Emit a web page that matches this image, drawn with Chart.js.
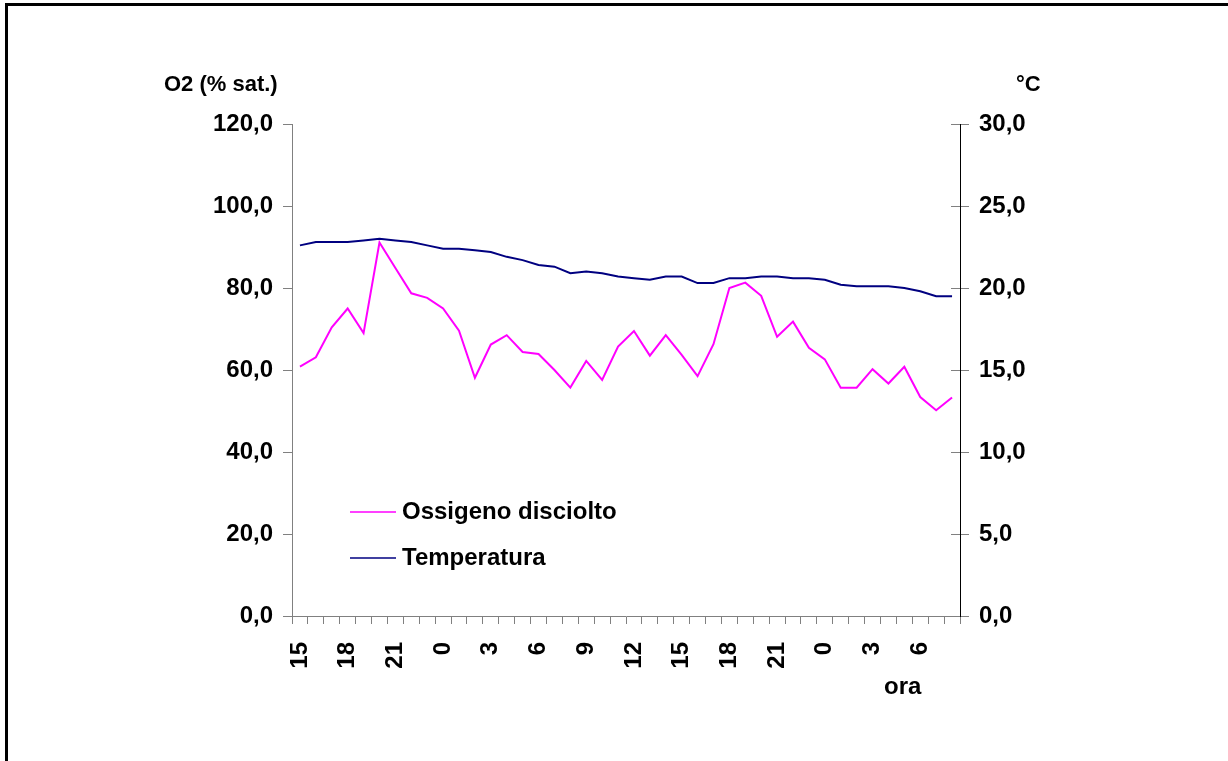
<!DOCTYPE html>
<html lang="it">
<head>
<meta charset="UTF-8">
<title>Ossigeno disciolto e temperatura</title>
<script src="https://cdn.jsdelivr.net/npm/chart.js"></script>
<style>
  html, body { margin: 0; padding: 0; background: #fff; overflow: hidden; }
  .wrap { position: relative; width: 1228px; height: 761px; }
  .frame {
    position: absolute; left: 5px; top: 3px; width: 1400px; height: 900px;
    border-left: 3px solid #000; border-top: 3px solid #000;
  }
  canvas { position: absolute; left: 0; top: 0; }
</style>
</head>
<body>
<div class="wrap">
  <div class="frame"></div>
  <canvas id="chart" width="1228" height="761"></canvas>
</div>
<script>
// ore (dalle 15 del primo giorno alle 8 del terzo)
const hours = ['15','16','17','18','19','20','21','22','23',
  '0','1','2','3','4','5','6','7','8','9','10','11','12','13','14','15','16','17','18','19','20','21','22','23',
  '0','1','2','3','4','5','6','7','8'];

// ossigeno disciolto (% sat.)
const o2 = [60.8, 63.1, 70.4, 75.0, 69.0, 91.1, 84.9, 78.7, 77.6, 75.0, 69.6, 58.1, 66.2, 68.5,
  64.4, 63.9, 60.0, 55.7, 62.2, 57.6, 65.7, 69.5, 63.5, 68.5, 63.7, 58.5, 66.3, 80.0,
  81.3, 78.1, 68.1, 71.8, 65.4, 62.6, 55.7, 55.7, 60.2, 56.7, 60.8, 53.4, 50.2, 53.3];

// temperatura (°C)
const temp = [22.6, 22.8, 22.8, 22.8, 22.9, 23.0, 22.9, 22.8, 22.6, 22.4, 22.4, 22.3, 22.2, 21.9,
  21.7, 21.4, 21.3, 20.9, 21.0, 20.9, 20.7, 20.6, 20.5, 20.7, 20.7, 20.3, 20.3, 20.6,
  20.6, 20.7, 20.7, 20.6, 20.6, 20.5, 20.2, 20.1, 20.1, 20.1, 20.0, 19.8, 19.5, 19.5];

const FONT = "'Liberation Sans', Arial, sans-serif";
const fmt = v => v.toFixed(1).replace('.', ',');

// testi degli assi, legenda e tacche a croce dell'asse destro
const extras = {
  id: 'extras',
  afterDraw(chart) {
    const ctx = chart.ctx;
    const y1 = chart.scales.y1;
    const area = chart.chartArea;
    ctx.save();
    // parte interna delle tacche dell'asse destro
    ctx.strokeStyle = '#808080';
    ctx.lineWidth = 1;
    for (let v = 0; v <= 30; v += 5) {
      const py = Math.round(y1.getPixelForValue(v)) + 0.5;
      ctx.beginPath();
      ctx.moveTo(area.right - 9, py);
      ctx.lineTo(area.right, py);
      ctx.stroke();
    }
    ctx.fillStyle = '#000';
    ctx.textBaseline = 'middle';
    ctx.font = 'bold 22px ' + FONT;
    ctx.textAlign = 'left';
    ctx.fillText('O2 (% sat.)', 164, 85);
    ctx.fillText('°C', 1016, 85);
    ctx.font = 'bold 24px ' + FONT;
    ctx.fillText('ora', 884, 687);

    // legenda
    const items = chart.data.datasets;
    const ys = [512, 558];
    items.forEach((ds, i) => {
      ctx.strokeStyle = ds.borderColor;
      ctx.lineWidth = 1.5;
      ctx.beginPath();
      ctx.moveTo(350, ys[i]);
      ctx.lineTo(396, ys[i]);
      ctx.stroke();
      ctx.fillStyle = '#000';
      ctx.font = 'bold 24px ' + FONT;
      ctx.fillText(ds.label, 402, ys[i]);
    });
    ctx.restore();
  }
};

new Chart(document.getElementById('chart'), {
  type: 'line',
  data: {
    labels: hours,
    datasets: [
      {
        label: 'Ossigeno disciolto',
        data: o2,
        borderColor: '#FF00FF',
        backgroundColor: '#FF00FF',
        borderWidth: 2,
        pointRadius: 0,
        tension: 0,
        yAxisID: 'y'
      },
      {
        label: 'Temperatura',
        data: temp,
        borderColor: '#000080',
        backgroundColor: '#000080',
        borderWidth: 2,
        pointRadius: 0,
        tension: 0,
        yAxisID: 'y1'
      }
    ]
  },
  options: {
    responsive: false,
    animation: false,
    devicePixelRatio: 1,
    layout: { padding: { top: 124, left: 0, right: 0, bottom: 0 } },
    plugins: {
      legend: { display: false },
      tooltip: { enabled: false }
    },
    scales: {
      x: {
        type: 'category',
        offset: true,
        afterFit: s => { s.height = 145; },
        grid: { offset: true, drawOnChartArea: false, tickLength: 8, color: '#808080' },
        border: { color: '#808080', width: 1 },
        ticks: {
          autoSkip: false,
          maxRotation: 90,
          minRotation: 90,
          padding: 18,
          color: '#000',
          font: { family: FONT, size: 24, weight: 'bold' },
          callback: (v, i) => (i % 3 === 0 ? hours[i] : '')
        }
      },
      y: {
        position: 'left',
        min: 0,
        max: 120,
        afterFit: s => { s.width = 292; },
        grid: { drawOnChartArea: false, tickLength: 9, color: '#808080' },
        border: { color: '#808080', width: 1 },
        ticks: {
          stepSize: 20,
          padding: 10,
          color: '#000',
          font: { family: FONT, size: 24, weight: 'bold' },
          callback: v => fmt(v)
        }
      },
      y1: {
        position: 'right',
        min: 0,
        max: 30,
        afterFit: s => { s.width = 268; },
        grid: { drawOnChartArea: false, tickLength: 9, color: '#808080' },
        border: { color: '#000', width: 1 },
        ticks: {
          stepSize: 5,
          padding: 10,
          color: '#000',
          font: { family: FONT, size: 24, weight: 'bold' },
          callback: v => fmt(v)
        }
      }
    }
  },
  plugins: [extras]
});
</script>
</body>
</html>
